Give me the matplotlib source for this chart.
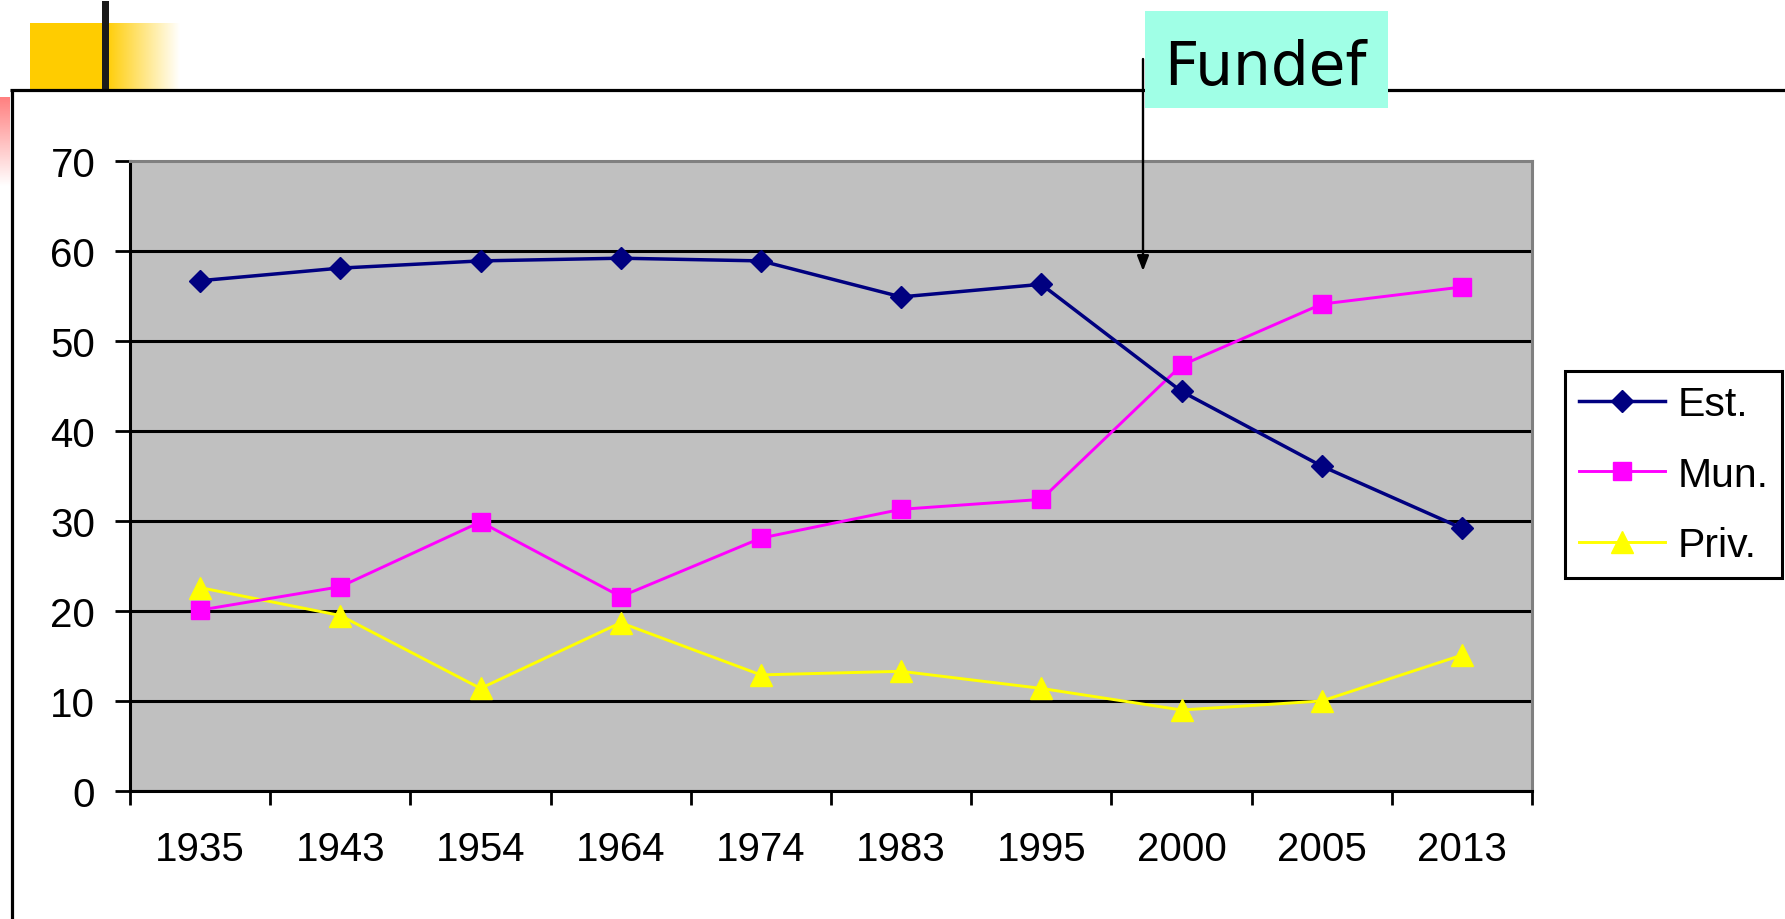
import matplotlib
matplotlib.use("Agg")
import matplotlib.pyplot as plt
import numpy as np

# dados
anos = ["1935", "1943", "1954", "1964", "1974", "1983", "1995", "2000", "2005", "2013"]
est = [56.7, 58.1, 58.9, 59.2, 58.9, 54.9, 56.3, 44.4, 36.1, 29.2]
mun = [20.1, 22.7, 29.9, 21.6, 28.1, 31.3, 32.4, 47.3, 54.1, 56.0]
priv = [22.6, 19.5, 11.4, 18.7, 12.9, 13.3, 11.4, 9.0, 10.0, 15.1]
yticks = [0, 10, 20, 30, 40, 50, 60, 70]

W, H = 1785, 920
fig = plt.figure(figsize=(W / 100, H / 100), dpi=100)
fig.patch.set_facecolor("white")

# area do grafico (em pixels)
x0, y0, x1, y1 = 130, 162, 1532, 792
ax = fig.add_axes([x0 / W, 1 - y1 / H, (x1 - x0) / W, (y1 - y0) / H])
ax.set_facecolor("#C0C0C0")

x = np.arange(len(anos))
ax.plot(x, est, color="#000080", lw=2.5, marker="D", ms=11.5, label="Est.", zorder=5)
ax.plot(x, mun, color="#FF00FF", lw=2.1, marker="s", ms=13, label="Mun.", zorder=4)
ax.plot(x, priv, color="#FFFF00", lw=2.1, marker="^", ms=15.5, label="Priv.", zorder=3)

ax.set_xlim(-0.5, len(anos) - 0.5)
ax.set_ylim(0, 70)
ax.set_yticks(yticks)
ax.set_xticks(x)
ax.set_xticklabels(anos)
ax.set_xticks(np.arange(len(anos) + 1) - 0.5, minor=True)

fonte = ["Liberation Sans", "DejaVu Sans"]
for lab in ax.get_xticklabels() + ax.get_yticklabels():
    lab.set_fontfamily(fonte)
    lab.set_fontsize(29)

ax.tick_params(axis="y", direction="out", length=11, width=2, pad=14, colors="black")
ax.tick_params(axis="x", which="major", length=0, pad=28)
ax.tick_params(axis="x", which="minor", direction="out", length=10, width=2)

ax.yaxis.grid(True, color="black", lw=2.2)
ax.get_ygridlines()[-1].set_visible(False)
ax.set_axisbelow(True)

for lado in ["left", "bottom"]:
    ax.spines[lado].set_color("black")
    ax.spines[lado].set_linewidth(2.2)
for lado in ["top", "right"]:
    ax.spines[lado].set_color("#808080")
    ax.spines[lado].set_linewidth(2.2)

leg = ax.legend(loc="upper left", bbox_to_anchor=(1565 / W, 1 - 372 / H),
                bbox_transform=fig.transFigure, borderaxespad=0,
                prop={"family": fonte, "size": 29.5},
                handlelength=2.1, handletextpad=0.3, labelspacing=0.8,
                borderpad=0.34, fancybox=False, framealpha=1, edgecolor="black")
leg.get_frame().set_linewidth(2.2)

# camada de decoracao do slide (pixels)
ov = fig.add_axes([0, 0, 1, 1], zorder=10)
ov.set_xlim(0, W)
ov.set_ylim(H, 0)
ov.axis("off")
ov.patch.set_alpha(0)

# quadrado amarelo com degrade
ov.add_patch(plt.Rectangle((30, 24), 75, 66, color="#FFCC00", lw=0))
grad = np.linspace(0, 1, 256)
amarelo = np.array([1.0, 0.8, 0.0])
img = amarelo[None, :] * (1 - grad[:, None]) + grad[:, None]
ov.imshow(img[None, :, :], extent=(105, 180, 90, 24), aspect="auto", interpolation="bilinear")
ov.add_patch(plt.Rectangle((102, 2), 7, 88, color="#1A1A1A", lw=0))

# degrade rosa na margem
rosa = np.array([1.0, 0.5, 0.5])
img2 = rosa[None, :] * (1 - grad[:, None]) + grad[:, None]
ov.imshow(img2[:, None, :], extent=(0, 10, 187, 98), aspect="auto", interpolation="bilinear")

# moldura do slide
ov.plot([10, W], [91, 91], color="black", lw=2.3, solid_capstyle="butt")
ov.plot([11.5, 11.5], [90, H], color="black", lw=2.3, solid_capstyle="butt")

# caixa Fundef e seta
ov.add_patch(plt.Rectangle((1145, 12), 243, 97, color="#A0FFE6", lw=0, zorder=3))
ov.text(1265, 85, "Fundef", fontsize=43, family="DejaVu Sans", ha="center",
        va="baseline", color="black", zorder=4)
ov.annotate("", xy=(1143, 272), xytext=(1143, 60),
            arrowprops=dict(arrowstyle="-|>,head_length=0.9,head_width=0.35",
                            color="black", lw=1.7, shrinkA=0, shrinkB=0))

ov.set_xlim(0, W)
ov.set_ylim(H, 0)

fig.savefig("out.png", dpi=100)
